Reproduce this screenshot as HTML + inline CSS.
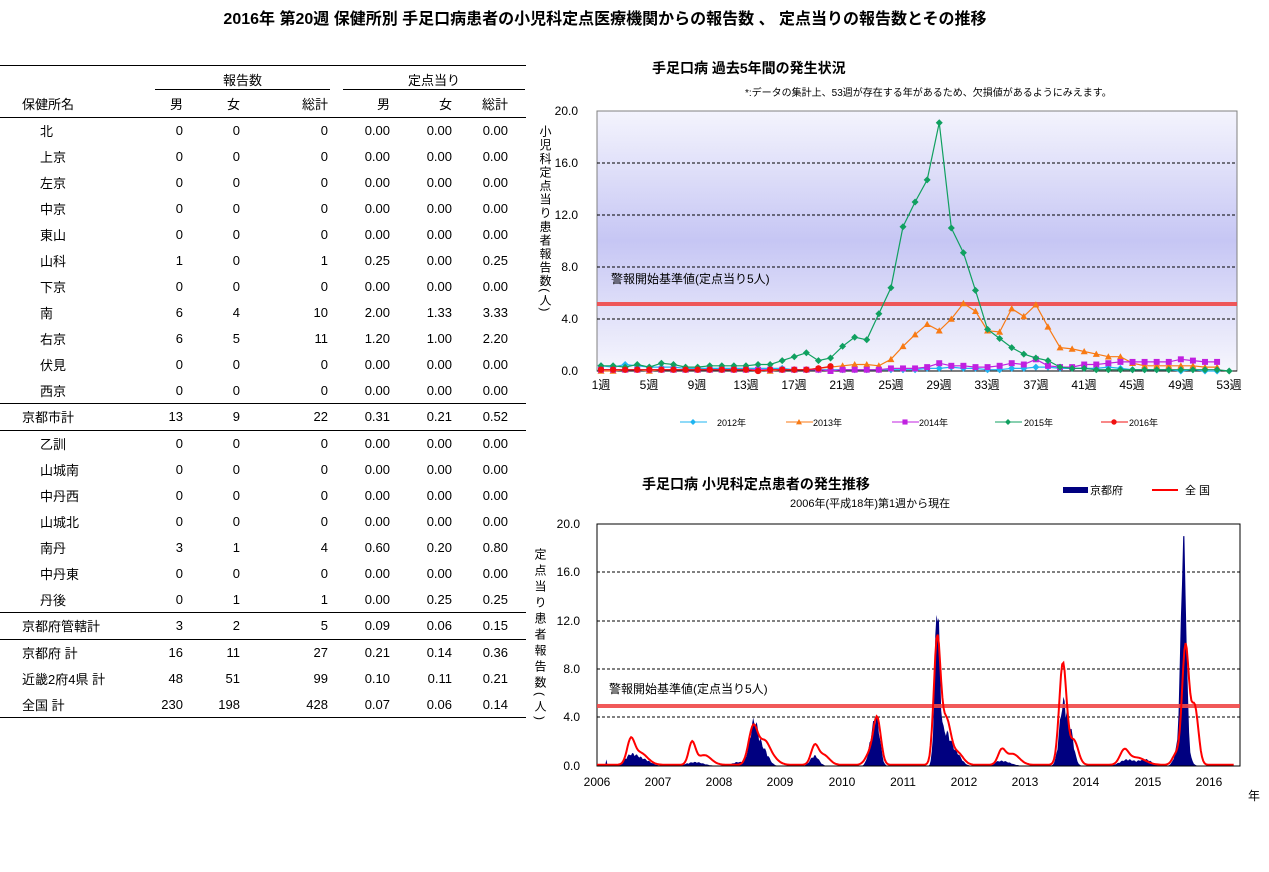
<!DOCTYPE html>
<html><head><meta charset="utf-8">
<style>
body{margin:0;width:1269px;height:872px;background:#fff;font-family:"Liberation Sans","Noto Sans CJK JP",sans-serif;position:relative;overflow:hidden;color:#000}
.t{position:absolute;white-space:nowrap}
table{position:absolute;left:0;width:526px;border-collapse:collapse;font-size:13px}
td{height:26px;padding:0;text-align:right}
td.n{text-align:left;padding-left:40px}
td.m{text-align:left;padding-left:22px}
tr.b td{border-bottom:1px solid #000;height:25.5px}
</style></head><body>
<div class="t" style="left:0;width:1210px;text-align:center;top:5px;font-size:16px;font-weight:bold">2016年 第20週 保健所別 手足口病患者の小児科定点医療機関からの報告数 、 定点当りの報告数とその推移</div>
<div style="position:absolute;left:0;top:65px;width:526px;border-top:1px solid #000"></div>
<div class="t" style="left:155px;width:175px;text-align:center;top:70px;font-size:13px">報告数</div>
<div style="position:absolute;left:155px;top:89px;width:175px;border-top:1px solid #000"></div>
<div class="t" style="left:343px;width:182px;text-align:center;top:70px;font-size:13px">定点当り</div>
<div style="position:absolute;left:343px;top:89px;width:182px;border-top:1px solid #000"></div>
<table style="top:91px">
<colgroup><col style="width:130px"><col style="width:53px"><col style="width:57px"><col style="width:88px"><col style="width:62px"><col style="width:62px"><col style="width:56px"><col></colgroup>
<tr class="b"><td class="m">保健所名</td><td>男</td><td>女</td><td>総計</td><td>男</td><td>女</td><td>総計</td><td></td></tr>
<tr><td class="n">北</td><td>0</td><td>0</td><td>0</td><td>0.00</td><td>0.00</td><td>0.00</td><td></td></tr>
<tr><td class="n">上京</td><td>0</td><td>0</td><td>0</td><td>0.00</td><td>0.00</td><td>0.00</td><td></td></tr>
<tr><td class="n">左京</td><td>0</td><td>0</td><td>0</td><td>0.00</td><td>0.00</td><td>0.00</td><td></td></tr>
<tr><td class="n">中京</td><td>0</td><td>0</td><td>0</td><td>0.00</td><td>0.00</td><td>0.00</td><td></td></tr>
<tr><td class="n">東山</td><td>0</td><td>0</td><td>0</td><td>0.00</td><td>0.00</td><td>0.00</td><td></td></tr>
<tr><td class="n">山科</td><td>1</td><td>0</td><td>1</td><td>0.25</td><td>0.00</td><td>0.25</td><td></td></tr>
<tr><td class="n">下京</td><td>0</td><td>0</td><td>0</td><td>0.00</td><td>0.00</td><td>0.00</td><td></td></tr>
<tr><td class="n">南</td><td>6</td><td>4</td><td>10</td><td>2.00</td><td>1.33</td><td>3.33</td><td></td></tr>
<tr><td class="n">右京</td><td>6</td><td>5</td><td>11</td><td>1.20</td><td>1.00</td><td>2.20</td><td></td></tr>
<tr><td class="n">伏見</td><td>0</td><td>0</td><td>0</td><td>0.00</td><td>0.00</td><td>0.00</td><td></td></tr>
<tr class="b"><td class="n">西京</td><td>0</td><td>0</td><td>0</td><td>0.00</td><td>0.00</td><td>0.00</td><td></td></tr>
<tr class="b"><td class="m">京都市計</td><td>13</td><td>9</td><td>22</td><td>0.31</td><td>0.21</td><td>0.52</td><td></td></tr>
<tr><td class="n">乙訓</td><td>0</td><td>0</td><td>0</td><td>0.00</td><td>0.00</td><td>0.00</td><td></td></tr>
<tr><td class="n">山城南</td><td>0</td><td>0</td><td>0</td><td>0.00</td><td>0.00</td><td>0.00</td><td></td></tr>
<tr><td class="n">中丹西</td><td>0</td><td>0</td><td>0</td><td>0.00</td><td>0.00</td><td>0.00</td><td></td></tr>
<tr><td class="n">山城北</td><td>0</td><td>0</td><td>0</td><td>0.00</td><td>0.00</td><td>0.00</td><td></td></tr>
<tr><td class="n">南丹</td><td>3</td><td>1</td><td>4</td><td>0.60</td><td>0.20</td><td>0.80</td><td></td></tr>
<tr><td class="n">中丹東</td><td>0</td><td>0</td><td>0</td><td>0.00</td><td>0.00</td><td>0.00</td><td></td></tr>
<tr class="b"><td class="n">丹後</td><td>0</td><td>1</td><td>1</td><td>0.00</td><td>0.25</td><td>0.25</td><td></td></tr>
<tr class="b"><td class="m">京都府管轄計</td><td>3</td><td>2</td><td>5</td><td>0.09</td><td>0.06</td><td>0.15</td><td></td></tr>
<tr><td class="m">京都府 計</td><td>16</td><td>11</td><td>27</td><td>0.21</td><td>0.14</td><td>0.36</td><td></td></tr>
<tr><td class="m">近畿2府4県 計</td><td>48</td><td>51</td><td>99</td><td>0.10</td><td>0.11</td><td>0.21</td><td></td></tr>
<tr class="b"><td class="m">全国 計</td><td>230</td><td>198</td><td>428</td><td>0.07</td><td>0.06</td><td>0.14</td><td></td></tr>
</table>

<svg style="position:absolute;left:0;top:0" width="1269" height="872" font-family="Liberation Sans, Noto Sans CJK JP, sans-serif">
<defs><linearGradient id="g" x1="0" y1="0" x2="0" y2="1">
<stop offset="0" stop-color="#f4f4fd"/><stop offset="0.5" stop-color="#c6c6f4"/><stop offset="1" stop-color="#f6f6fd"/></linearGradient>
<clipPath id="cb"><rect x="597" y="524" width="643" height="242"/></clipPath></defs>
<text x="652" y="73" font-size="14" font-weight="bold">手足口病 過去5年間の発生状況</text>
<text x="745" y="96" font-size="10">*:データの集計上、53週が存在する年があるため、欠損値があるようにみえます。</text>
<rect x="597" y="111" width="640" height="260" fill="url(#g)" stroke="#808080"/>
<g stroke="#000" stroke-dasharray="3,2" stroke-width="1">
<line x1="597" x2="1237" y1="163" y2="163"/><line x1="597" x2="1237" y1="215" y2="215"/><line x1="597" x2="1237" y1="267" y2="267"/><line x1="597" x2="1237" y1="319" y2="319"/></g>
<line x1="597" x2="1237" y1="304" y2="304" stroke="#f04848" stroke-width="4" opacity="0.9"/>
<text x="611" y="283" font-size="12">警報開始基準値(定点当り5人)</text>
<line x1="597" x2="1237" y1="371" y2="371" stroke="#000"/>
<g font-size="12" text-anchor="end"><text x="578" y="115">20.0</text><text x="578" y="167">16.0</text><text x="578" y="219">12.0</text><text x="578" y="271">8.0</text><text x="578" y="323">4.0</text><text x="578" y="375">0.0</text></g>
<text x="545" y="125" font-size="12" letter-spacing="1.6" style="writing-mode:vertical-rl">小児科定点当り患者報告数(人)</text>
<g id="topg"></g>
<g font-size="9">
<text x="717" y="426">2012年</text><text x="813" y="426">2013年</text><text x="919" y="426">2014年</text><text x="1024" y="426">2015年</text><text x="1129" y="426">2016年</text></g>

<text x="642" y="489" font-size="14" font-weight="bold">手足口病 小児科定点患者の発生推移</text>
<text x="790" y="507" font-size="11">2006年(平成18年)第1週から現在</text>
<rect x="1063" y="487" width="25" height="6" fill="#000080"/><text x="1090" y="494" font-size="11">京都府</text>
<line x1="1152" x2="1178" y1="490" y2="490" stroke="#f00" stroke-width="2"/><text x="1185" y="494" font-size="11">全 国</text>
<rect x="597" y="524" width="643" height="242" fill="#fff" stroke="#000"/>
<g stroke="#000" stroke-dasharray="3,2"><line x1="597" x2="1240" y1="572" y2="572"/><line x1="597" x2="1240" y1="621" y2="621"/><line x1="597" x2="1240" y1="669" y2="669"/><line x1="597" x2="1240" y1="717" y2="717"/></g>
<g id="bot" clip-path="url(#cb)"></g>
<line x1="597" x2="1240" y1="706" y2="706" stroke="#f04848" stroke-width="4" opacity="0.9"/>
<g id="bot2" clip-path="url(#cb)"></g>
<text x="609" y="693" font-size="12">警報開始基準値(定点当り5人)</text>
<g font-size="12" text-anchor="end"><text x="580" y="528">20.0</text><text x="580" y="576">16.0</text><text x="580" y="625">12.0</text><text x="580" y="673">8.0</text><text x="580" y="721">4.0</text><text x="580" y="770">0.0</text></g>
<g font-size="12" text-anchor="middle">
<text x="597" y="786">2006</text><text x="658" y="786">2007</text><text x="719" y="786">2008</text><text x="780" y="786">2009</text><text x="842" y="786">2010</text><text x="903" y="786">2011</text><text x="964" y="786">2012</text><text x="1025" y="786">2013</text><text x="1086" y="786">2014</text><text x="1148" y="786">2015</text><text x="1209" y="786">2016</text></g>
<text x="1248" y="800" font-size="12">年</text>
<text x="540" y="548" font-size="12" letter-spacing="4" style="writing-mode:vertical-rl">定点当り患者報告数(人)</text>
<g font-size="12" text-anchor="middle">
<text x="601" y="389">1週</text><text x="649" y="389">5週</text><text x="697" y="389">9週</text><text x="746" y="389">13週</text><text x="794" y="389">17週</text><text x="842" y="389">21週</text><text x="891" y="389">25週</text><text x="939" y="389">29週</text><text x="987" y="389">33週</text><text x="1036" y="389">37週</text><text x="1084" y="389">41週</text><text x="1132" y="389">45週</text><text x="1181" y="389">49週</text><text x="1229" y="389">53週</text></g>
</svg>
<script>
(function(){
var NS="http://www.w3.org/2000/svg";
function el(p,t,a){var e=document.createElementNS(NS,t);for(var k in a)e.setAttribute(k,a[k]);p.appendChild(e);return e;}
var tg=document.getElementById('topg');
function X(w){return 601+(w-1)*12.08;}function Y(v){return 371-v*13;}
var s15=[0.4,0.4,0.3,0.5,0.3,0.6,0.5,0.3,0.3,0.4,0.4,0.4,0.4,0.5,0.5,0.8,1.1,1.4,0.8,1.0,1.9,2.6,2.4,4.4,6.4,11.1,13.0,14.7,19.1,11.0,9.1,6.2,3.2,2.5,1.8,1.3,1.0,0.8,0.3,0.2,0.2,0.1,0.1,0.1,0.1,0.1,0.1,0.1,0.1,0.1,0.1,0.1,0.0];
var s13=[0,0,0.1,0.1,0,0.1,0.1,0.1,0.1,0.1,0.1,0.1,0.1,0.1,0,0.1,0.1,0.1,0.2,0.3,0.4,0.5,0.5,0.4,0.9,1.9,2.8,3.6,3.1,4.0,5.2,4.6,3.1,3.0,4.8,4.2,5.1,3.4,1.8,1.7,1.5,1.3,1.1,1.1,0.6,0.4,0.4,0.4,0.4,0.4,0.3,0.3];
var s14=[0.1,0.1,0.1,0.1,0.1,0.1,0.1,0.1,0.1,0.1,0.1,0.1,0.1,0.1,0.1,0.1,0.1,0.1,0.1,0.0,0.1,0.1,0.1,0.1,0.2,0.2,0.2,0.3,0.6,0.4,0.4,0.3,0.3,0.4,0.6,0.5,0.9,0.4,0.3,0.3,0.5,0.5,0.6,0.7,0.7,0.7,0.7,0.7,0.9,0.8,0.7,0.7];
var s12=[0.4,0.3,0.5,0.4,0.3,0.3,0.3,0.2,0.2,0.2,0.2,0.2,0.2,0.2,0.2,0.2,0.1,0.1,0.1,0.1,0.1,0.1,0.1,0.1,0.1,0.1,0.1,0.2,0.2,0.3,0.2,0.2,0.1,0.1,0.2,0.2,0.3,0.3,0.2,0.2,0.2,0.2,0.3,0.2,0.1,0.1,0.1,0.1,0.0,0.1,0.0,0.0];
var s16=[0.1,0.1,0.1,0.1,0.1,0.1,0.1,0.1,0.1,0.1,0.1,0.1,0.1,0.0,0.1,0.1,0.1,0.1,0.2,0.36];
function mk(c,m,x,y,r){
if(m=='d')el(tg,'polygon',{points:x+','+(y-r)+' '+(x+r)+','+y+' '+x+','+(y+r)+' '+(x-r)+','+y,fill:c});
else if(m=='t')el(tg,'polygon',{points:x+','+(y-r)+' '+(x+r)+','+(y+r*0.8)+' '+(x-r)+','+(y+r*0.8),fill:c});
else if(m=='s')el(tg,'rect',{x:x-r*0.85,y:y-r*0.85,width:r*1.7,height:r*1.7,fill:c});
else el(tg,'circle',{cx:x,cy:y,r:r*0.9,fill:c});}
function ser(d,c,m){var p=d.map(function(v,i){return X(i+1)+','+Y(v)}).join(' ');
el(tg,'polyline',{points:p,fill:'none',stroke:c,'stroke-width':1.2});
d.forEach(function(v,i){mk(c,m,X(i+1),Y(v),3.5);});}
ser(s12,'#1fb4f0','d');ser(s13,'#f87a14','t');ser(s14,'#c020e0','s');ser(s15,'#10a060','d');ser(s16,'#f01010','c');
var lc=[['#1fb4f0','d',680],['#f87a14','t',786],['#c020e0','s',892],['#10a060','d',995],['#f01010','c',1101]];
lc.forEach(function(a){el(tg,'line',{x1:a[2],x2:a[2]+27,y1:422,y2:422,stroke:a[0]});mk(a[0],a[1],a[2]+13,422,3);});
var bot=document.getElementById('bot'),bot2=document.getElementById('bot2');
function BX(t){return 597+(t-2006)*61.3;}function BY(v){return 766-v*12.1;}
var nat=[[2006.55,1.8,0.06],[2006.7,1.0,0.12],[2007.55,1.8,0.055],[2007.75,0.8,0.11],[2008.55,3.2,0.075],[2008.73,1.6,0.08],[2008.85,0.6,0.1],[2009.55,1.5,0.06],[2009.7,0.8,0.09],[2010.57,3.8,0.06],[2010.45,0.9,0.07],[2011.55,10.4,0.055],[2011.7,3.6,0.07],[2011.88,1.0,0.09],[2012.6,1.1,0.06],[2012.78,0.9,0.11],[2013.6,8.4,0.06],[2013.78,2.0,0.07],[2014.6,1.1,0.07],[2014.8,0.6,0.14],[2015.6,9.8,0.055],[2015.75,4.8,0.06],[2015.45,0.9,0.06]];
var kyo=[[2006.15,0.6,0.008],[2006.55,0.8,0.1],[2006.75,0.5,0.12],[2007.6,0.3,0.14],[2008.3,0.3,0.1],[2008.56,3.4,0.07],[2008.72,1.2,0.08],[2009.55,0.8,0.07],[2010.5,2.5,0.06],[2010.58,2.4,0.05],[2011.55,12.2,0.04],[2011.68,2.5,0.08],[2011.85,1.0,0.09],[2012.6,0.4,0.14],[2013.6,4.6,0.06],[2013.72,2.6,0.06],[2014.65,0.5,0.12],[2014.95,0.5,0.1],[2015.57,17.0,0.04],[2015.55,3.0,0.08]];
function f(arr,t){var s=0.1;arr.forEach(function(a){var d=(t-a[0])/a[2];s+=a[1]*Math.exp(-0.5*d*d);});return s;}
var pn=[],pk=['597,766'];
for(var t=2006;t<=2016.39;t+=1/52.18){var n=f(nat,t);pn.push(BX(t).toFixed(1)+','+BY(n).toFixed(1));
var k=f(kyo,t)-0.1;k=k*(0.85+0.3*Math.abs(Math.sin(t*937.1)));if(k<0)k=0;if(k>19)k=19;pk.push(BX(t).toFixed(1)+','+BY(k).toFixed(1));}
pk.push(BX(2016.39).toFixed(1)+',766');
el(bot,'polygon',{points:pk.join(' '),fill:'#000080'});
el(bot2,'polyline',{points:pn.join(' '),fill:'none',stroke:'#f00','stroke-width':2});
el(bot2,'line',{x1:597,x2:1240,y1:766,y2:766,stroke:'#000'});
})();
</script>
</body></html>
